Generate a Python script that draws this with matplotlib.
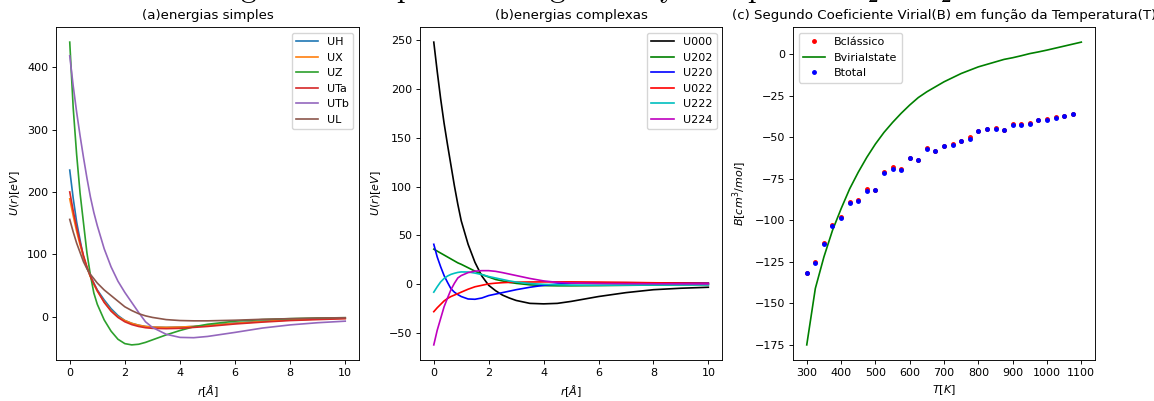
import numpy as np
import matplotlib
matplotlib.use("Agg")
import matplotlib.pyplot as plt

plt.rcParams['font.size'] = 8
plt.rcParams['axes.titlesize'] = 9.6
plt.rcParams['axes.linewidth'] = 0.65
plt.rcParams['xtick.major.width'] = 0.65
plt.rcParams['ytick.major.width'] = 0.65
plt.rcParams['xtick.major.size'] = 2.8
plt.rcParams['ytick.major.size'] = 2.8
plt.rcParams['xtick.major.pad'] = 2.8
plt.rcParams['ytick.major.pad'] = 2.8
plt.rcParams['lines.linewidth'] = 1.2

# distancias r [Angstrom]
r = [0, 0.125, 0.25, 0.375, 0.5, 0.625, 0.75, 0.875, 1.0, 1.25, 1.5, 1.75, 2.0,
     2.25, 2.5, 2.75, 3.0, 3.5, 4.0, 4.5, 5.0, 6.0, 7.0, 8.0, 9.0, 10.0]

# energias simples
UH = [235, 190, 152, 123, 95, 78, 65, 54, 43, 27, 13, 2, -6,
      -10.5, -13.5, -15.5, -16.5, -17, -16.5, -15.5, -14, -10, -7, -5, -3.5, -2]
UX = [189, 162, 137, 115, 96, 79, 64, 52, 41, 24, 10, 0, -6,
      -10.5, -13.5, -15.5, -16.5, -17, -16.5, -15.5, -14, -10.5, -7.5, -5, -3.5, -2.5]
UZ = [440, 335, 260, 198, 150, 102, 67, 38, 20, -5, -23, -36, -43,
      -45, -44, -41, -37, -29, -22, -16, -12, -7, -4.5, -3, -2, -1.5]
UTa = [200, 170, 143, 119, 98, 80, 65, 53, 42, 23, 9, -1, -8,
       -12.5, -15.5, -17.5, -18.5, -19, -18.5, -17, -15.5, -11.5, -8.5, -6, -4.5, -3]
UTb = [418, 370, 328, 290, 255, 222, 192, 167, 146, 109, 80, 57, 39,
       23, 7, -8, -17, -28, -33, -33.5, -31.5, -25, -18, -13, -9.5, -7]
UL = [156, 136, 118, 103, 88, 77, 68, 61, 54, 43, 34, 25, 16,
      10, 5, 1.5, -1, -4.5, -6, -6.5, -6.5, -5.5, -4, -3, -2, -1.5]

# energias complexas
U000 = [248, 218, 190, 165, 143, 122, 101, 82, 65, 41, 22.5, 8.5, -1,
        -6.5, -11, -14, -16.5, -19.5, -20, -19.5, -17.5, -12.5, -8.5, -5.5, -4, -3]
U202 = [36, 34, 32, 30, 28, 26, 24, 22, 20.5, 17, 13.5, 10, 7.5,
        5, 3.5, 2, 1, -0.5, -1.3, -1.5, -1.5, -1.3, -1, -0.7, -0.5, -0.3]
U220 = [41, 28, 18, 9, 2, -4.5, -8, -10.5, -12.5, -15, -15.3, -14, -11.5,
        -10, -8.5, -7, -5.5, -3, -1, 0.3, 1, 1.5, 1.6, 1.5, 1.4, 1.3]
U022 = [-28, -24, -20.5, -17, -14.5, -12.5, -11, -9.5, -8, -5, -2.5, -1, 0.5,
        1.2, 1.7, 2, 2.2, 2.4, 2.5, 2.5, 2.5, 2.3, 2, 1.6, 1.3, 1]
U222 = [-8, -2.5, 2.5, 6, 8.5, 10.2, 11.3, 12.2, 12.7, 12.6, 11.5, 10, 8,
        6.5, 5, 3.5, 2.3, 0.8, 0, -0.5, -0.8, -0.9, -0.8, -0.7, -0.6, -0.5]
U224 = [-62, -47, -35, -23, -14, -5.5, 1, 6.5, 9, 12, 13.5, 14, 14,
        13.3, 12, 10.5, 9, 6, 3.5, 2, 1.3, 0.9, 0.7, 0.6, 0.5, 0.4]

# segundo coeficiente virial
T = [300, 325, 350, 375, 400, 425, 450, 475, 500, 525, 550, 575, 600, 625, 650, 675,
     700, 725, 750, 775, 800, 825, 850, 875, 900, 925, 950, 975, 1000, 1025, 1050, 1075]
Btotal = [-131.9, -125.9, -114.4, -103.4, -98.4, -89.6, -88.4, -82.0, -81.8, -71.2,
          -68.8, -69.4, -62.7, -63.7, -56.7, -58.1, -55.3, -54.3, -52.1, -50.7,
          -46.1, -45.1, -44.7, -45.7, -42.3, -42.3, -41.7, -39.7, -39.3, -38.1, -37.3, -36.1]
Bclassico = [-131.9, -125.3, -113.4, -103.0, -98.2, -89.2, -87.8, -81.0, -81.6, -71.0,
             -67.9, -69.2, -62.5, -63.5, -56.5, -57.9, -55.1, -54.1, -51.9, -49.8,
             -45.9, -44.9, -44.5, -45.5, -42.1, -42.1, -41.5, -39.5, -39.1, -37.9, -37.1, -35.9]
T_vs = [300, 325, 350, 375, 400, 425, 450, 475, 500, 525, 550, 575, 600, 625, 650, 675,
        700, 725, 750, 775, 800, 825, 850, 875, 900, 925, 950, 975, 1000, 1025, 1050, 1075, 1100]
Bvirialstate = [-175, -141, -122, -106, -93, -81, -71, -62, -54, -47, -41, -35.5, -30.5,
                -26, -22.5, -19.5, -16.5, -14, -11.5, -9.5, -7.5, -6, -4.5, -3, -2, -0.8,
                0.5, 1.5, 2.6, 3.8, 5, 6.2, 7.4]

fig = plt.figure(figsize=(11.54, 4.01), dpi=100)
ax1 = fig.add_axes([0.0485, 0.1022, 0.2626, 0.8305])
ax2 = fig.add_axes([0.3640, 0.1022, 0.2617, 0.8305])
ax3 = fig.add_axes([0.6872, 0.1022, 0.2617, 0.8305])

fig.text(0.504, 1.007, r'Figura 1: Output do código em Python para o $H_2 - H_2$',
         ha='center', va='baseline', fontsize=22, family=['cmr10', 'DejaVu Serif'],
         math_fontfamily='cm')

ax1.plot(r, UH, label='UH')
ax1.plot(r, UX, label='UX')
ax1.plot(r, UZ, label='UZ')
ax1.plot(r, UTa, label='UTa')
ax1.plot(r, UTb, label='UTb')
ax1.plot(r, UL, label='UL')
ax1.set_title('(a)energias simples')
ax1.set_xlabel(r'$r[\AA]$')
ax1.set_ylabel(r'$U(r)[eV]$')
ax1.legend(loc='upper right')

ax2.plot(r, U000, 'k', label='U000')
ax2.plot(r, U202, 'g', label='U202')
ax2.plot(r, U220, 'b', label='U220')
ax2.plot(r, U022, 'r', label='U022')
ax2.plot(r, U222, 'c', label='U222')
ax2.plot(r, U224, 'm', label='U224')
ax2.set_title('(b)energias complexas')
ax2.set_xlabel(r'$r[\AA]$')
ax2.set_ylabel(r'$U(r)[eV]$')
ax2.legend(loc='upper right')

ax3.plot(T, Bclassico, 'r.', markersize=5, label='Bclássico')
ax3.plot(T_vs, Bvirialstate, 'g-', label='Bvirialstate')
ax3.plot(T, Btotal, 'b.', markersize=5, label='Btotal')
ax3.set_xticks(np.arange(300, 1101, 100))
ax3.set_title('(c) Segundo Coeficiente Virial(B) em função da Temperatura(T)')
ax3.set_xlabel(r'$T[K]$')
ax3.set_ylabel(r'$B[cm^3/mol]$')
ax3.legend(loc='upper left')

fig.savefig('out.png', dpi=100)
